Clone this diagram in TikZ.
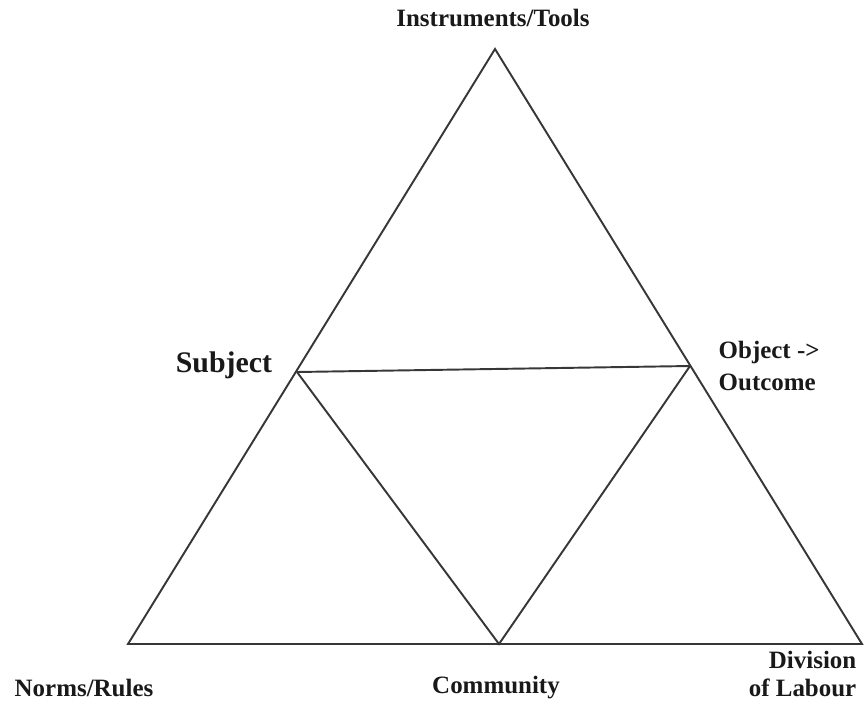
\documentclass[tikz,border=0pt]{standalone}
\usepackage{fontspec}
\setmainfont{Liberation Serif}
\usepackage{xcolor}
\usetikzlibrary{positioning}
\definecolor{edgegray}{RGB}{55,55,55}
\definecolor{labelgray}{RGB}{25,25,25}

\begin{document}
\begin{tikzpicture}[x=0.02cm,y=-0.02cm,line width=1.1pt,
  lbl/.style={text=labelgray,font=\bfseries\fontsize{14.2}{15.5}\selectfont,inner sep=1pt}]
\useasboundingbox (0,0) rectangle (865,700);
% corners of the outer triangle
\coordinate (tools) at (495,49);
\coordinate (norms) at (128,644);
\coordinate (labour) at (862,644);
% points on the sides
\coordinate (subj) at (297,372);
\coordinate (obj) at (690,366);
\coordinate (comm) at (499,644);
\draw[edgegray,line join=miter] (norms) -- (tools) -- (labour) -- cycle;
\draw[edgegray] (subj) -- (obj);
\draw[edgegray] (subj) -- (comm) -- (obj);
% labels
\node[lbl] (toolslbl) at (493,18) {Instruments/Tools};
\node[lbl,font=\bfseries\fontsize{17}{20}\selectfont] (subjlbl) at (224,365) {Subject};
\node[lbl,align=left,anchor=west,font=\bfseries\fontsize{14.2}{18}\selectfont] (objlbl) at (716,366) {Object ->\\Outcome};
\node[lbl] (normslbl) at (84,688) {Norms/Rules};
\node[lbl] (commlbl) at (496,688) {Community};
\node[lbl,align=right,anchor=east] (labourlbl) at (859,674) {Division\\of Labour};
\end{tikzpicture}
\end{document}
